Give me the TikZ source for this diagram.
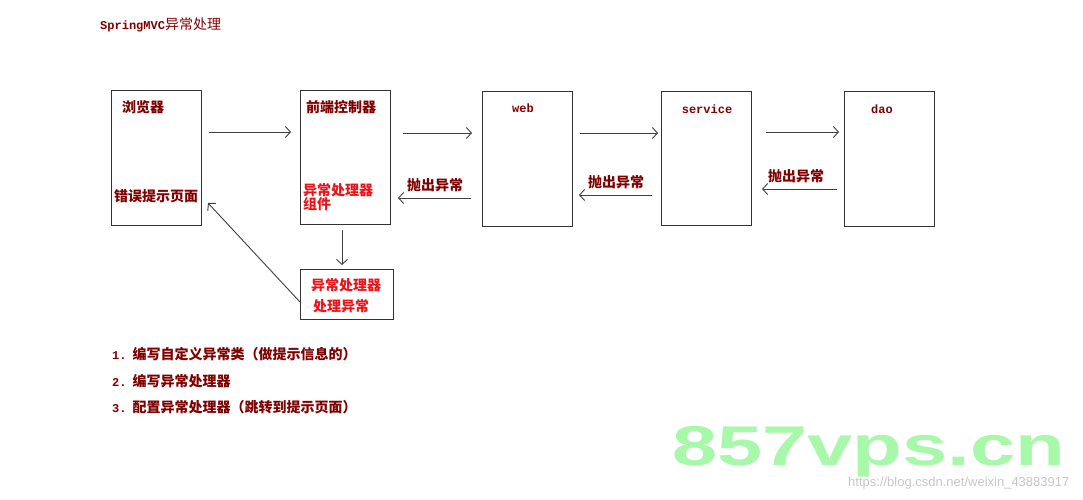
\documentclass[tikz,border=0pt]{standalone}
\usepackage{fontspec}
\setmainfont{Liberation Sans}
\newfontfamily\cjk{Noto Sans CJK SC}
\newfontfamily\mono{Liberation Mono}
\usetikzlibrary{arrows.meta}
\definecolor{dred}{RGB}{128,0,0}
\definecolor{bred}{RGB}{235,20,25}
\definecolor{wgreen}{RGB}{168,248,170}
\begin{document}
\begin{tikzpicture}[x=1pt,y=-1pt,
  box/.style={draw=black!80,line width=1pt,minimum width=#1,inner sep=0pt,outer sep=0pt},
  arr/.style={draw=black!75,line width=0.9pt,-{Straight Barb[length=5pt,width=11pt,line width=0.9pt]}},
  cn/.style={inner sep=0pt,anchor=west,text=dred,font=\cjk\bfseries\fontsize{14}{14}\selectfont},
  cnr/.style={inner sep=0pt,anchor=west,text=bred,font=\cjk\bfseries\fontsize{14}{14}\selectfont},
  lat/.style={inner sep=0pt,text=dred,font=\mono\bfseries\fontsize{12}{12}\selectfont},
  lst/.style={inner sep=0pt,anchor=west,text=dred,font=\cjk\bfseries\fontsize{14}{14}\selectfont}]
\useasboundingbox (0,0) rectangle (1083,500);
\fill[white] (0,0) rectangle (1083,500);

% title
\node[inner sep=0pt,anchor=west,text=dred] (title) at (100,25)
  {{\mono\bfseries\fontsize{12}{12}\selectfont SpringMVC}{\cjk\fontsize{14}{14}\selectfont 异常处理}};

% boxes
\node[box=90pt,minimum height=134pt] (browser) at (156,158) {};
\node[box=90pt,minimum height=133pt] (ctrl) at (345,157.5) {};
\node[box=90pt,minimum height=134pt] (web) at (527,159) {};
\node[box=90pt,minimum height=133pt] (service) at (706,158.5) {};
\node[box=90pt,minimum height=134pt] (dao) at (889,159) {};
\node[box=93pt,minimum height=50pt] (handler) at (346.5,294) {};

% box texts
\node[cn] (tbrowser) at (122,107) {浏览器};
\node[cn] (terrpage) at (114,196) {错误提示页面};
\node[cn] (tctrl) at (306,107) {前端控制器};
\node[cnr] (tcomp1) at (303,190) {异常处理器};
\node[cnr] (tcomp2) at (303,204) {组件};
\node[lat] (tweb) at (523,108) {web};
\node[lat] (tservice) at (707,109) {service};
\node[lat] (tdao) at (882,109) {dao};
\node[cnr] (th1) at (311,285) {异常处理器};
\node[cnr] (th2) at (313,306) {处理异常};

% connector end points
\coordinate (a1s) at (209,132); \coordinate (a1e) at (291,132);
\coordinate (a2s) at (403,133); \coordinate (a2e) at (472,133);
\coordinate (a3s) at (580,133); \coordinate (a3e) at (658,133);
\coordinate (a4s) at (766,132); \coordinate (a4e) at (839,132);
\coordinate (b1s) at (837,189); \coordinate (b1e) at (762,189);
\coordinate (b2s) at (652,195); \coordinate (b2e) at (579,195);
\coordinate (b3s) at (471,198); \coordinate (b3e) at (398,198);
\coordinate (c1s) at (342,230); \coordinate (c1e) at (342,265);
\coordinate (c2s) at (300,302); \coordinate (c2e) at (208,203);

\draw[arr] (a1s) -- (a1e);
\draw[arr] (a2s) -- (a2e);
\draw[arr] (a3s) -- (a3e);
\draw[arr] (a4s) -- (a4e);
\draw[arr] (b1s) -- (b1e);
\draw[arr] (b2s) -- (b2e);
\draw[arr] (b3s) -- (b3e);
\draw[arr] (c1s) -- (c1e);
\draw[arr] (c2s) -- (c2e);

% arrow labels
\node[cn,anchor=center] (l1) at (796,176) {抛出异常};
\node[cn,anchor=center] (l2) at (616,182) {抛出异常};
\node[cn,anchor=center] (l3) at (435,185) {抛出异常};

% list
\node[lst] (s1) at (112,354) {{\mono\bfseries\fontsize{12}{12}\selectfont 1.}\hspace{6pt}编写自定义异常类（做提示信息的）};
\node[lst] (s2) at (112,381) {{\mono\bfseries\fontsize{12}{12}\selectfont 2.}\hspace{6pt}编写异常处理器};
\node[lst] (s3) at (112,407) {{\mono\bfseries\fontsize{12}{12}\selectfont 3.}\hspace{6pt}配置异常处理器（跳转到提示页面）};

% watermarks
\node[inner sep=0pt,anchor=base west,text=wgreen,font=\bfseries\fontsize{56}{56}\selectfont] (wm) at (672,465)
  {\scalebox{1.45}[1]{857vps.cn}};
\node[inner sep=0pt,anchor=west,text=black!22,font=\fontsize{13}{13}\selectfont] (url) at (848,483)
  {https://blog.csdn.net/weixin\_43883917};
\end{tikzpicture}
\end{document}
